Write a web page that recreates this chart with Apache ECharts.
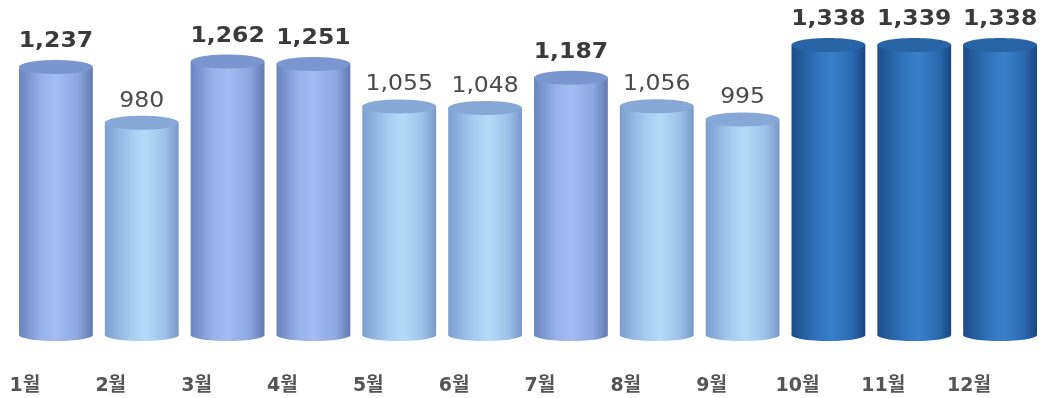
<!DOCTYPE html>
<html><head><meta charset="utf-8">
<script src="https://cdn.jsdelivr.net/npm/echarts@6/dist/echarts.min.js"></script>
<style>html,body{margin:0;padding:0;background:#fff}#c{width:1044px;height:398px}</style>
</head><body><div id="c"></div>
<script>
const categories = ['1월','2월','3월','4월','5월','6월','7월','8월','9월','10월','11월','12월'];
const values = [1237, 980, 1262, 1251, 1055, 1048, 1187, 1056, 995, 1338, 1339, 1338];
// colour group of each month: 0 = medium, 1 = light, 2 = dark
const groups = [0, 1, 0, 0, 1, 1, 0, 1, 1, 2, 2, 2];

const palette = [
  { stops: [[0,'#6a83c2'],[0.3,'#98b1e8'],[0.5,'#a3bcf2'],[0.8,'#8ea7de'],[1,'#6479b5']], top: '#7a95d0', bold: true },
  { stops: [[0,'#7c9fd0'],[0.35,'#a6ccf1'],[0.55,'#b5dbf9'],[0.82,'#9cc1e9'],[1,'#7898c8']], top: '#86a8d6', bold: false },
  { stops: [[0,'#1b4d8a'],[0.35,'#3073bc'],[0.55,'#3880ca'],[0.82,'#2a6ab0'],[1,'#194783']], top: '#2863a6', bold: true }
];
function grad(stops){
  return new echarts.graphic.LinearGradient(0,0,1,0, stops.map(s=>({offset:s[0], color:s[1]})));
}

const chart = echarts.init(document.getElementById('c'), null, {renderer:'canvas'});
chart.setOption({
  backgroundColor: '#fff',
  animation: false,
  grid: { left: 13, right: 1, top: 10, bottom: 63 },
  xAxis: {
    type: 'category', data: categories,
    axisLine: { show: false }, axisTick: { show: false },
    axisLabel: { margin: 42, fontSize: 19, fontWeight: 'bold', color: '#555',
      fontFamily: 'DejaVu Sans, "Noto Sans CJK KR"', padding: [0, 62, 0, 0] }
  },
  yAxis: { type: 'value', min: 0, max: 1500, show: false, splitLine: { show: false } },
  series: [{
    type: 'custom',
    data: values.map((v, i) => [i, v, groups[i]]),
    renderItem: function(params, api){
      const i = api.value(0), v = api.value(1), g = palette[api.value(2)];
      const top = api.coord([i, v]);
      const base = api.coord([i, 0]);
      const w = api.size([1, 0])[0] * 0.86;
      const cx = top[0], rx = w / 2, ry = 7;
      const fill = grad(g.stops);
      return {
        type: 'group',
        children: [
          { type: 'ellipse', shape: { cx: cx, cy: base[1], rx: rx, ry: 6 }, style: { fill: fill } },
          { type: 'rect', shape: { x: cx - rx, y: top[1], width: w, height: base[1] - top[1] }, style: { fill: fill } },
          { type: 'ellipse', shape: { cx: cx, cy: top[1], rx: rx, ry: ry }, style: { fill: g.top } },
          { type: 'text', x: cx, y: top[1] - (g.bold ? 15 : 11), scaleX: 1.12,
            style: {
              text: v.toLocaleString('en-US'), x: 0, y: 0,
              align: 'center', verticalAlign: 'bottom',
              font: (g.bold ? 'bold ' : '') + '21px "DejaVu Sans"',
              fill: g.bold ? '#3a3a3a' : '#4a4a4a'
          } }
        ]
      };
    }
  }]
});
</script></body></html>
